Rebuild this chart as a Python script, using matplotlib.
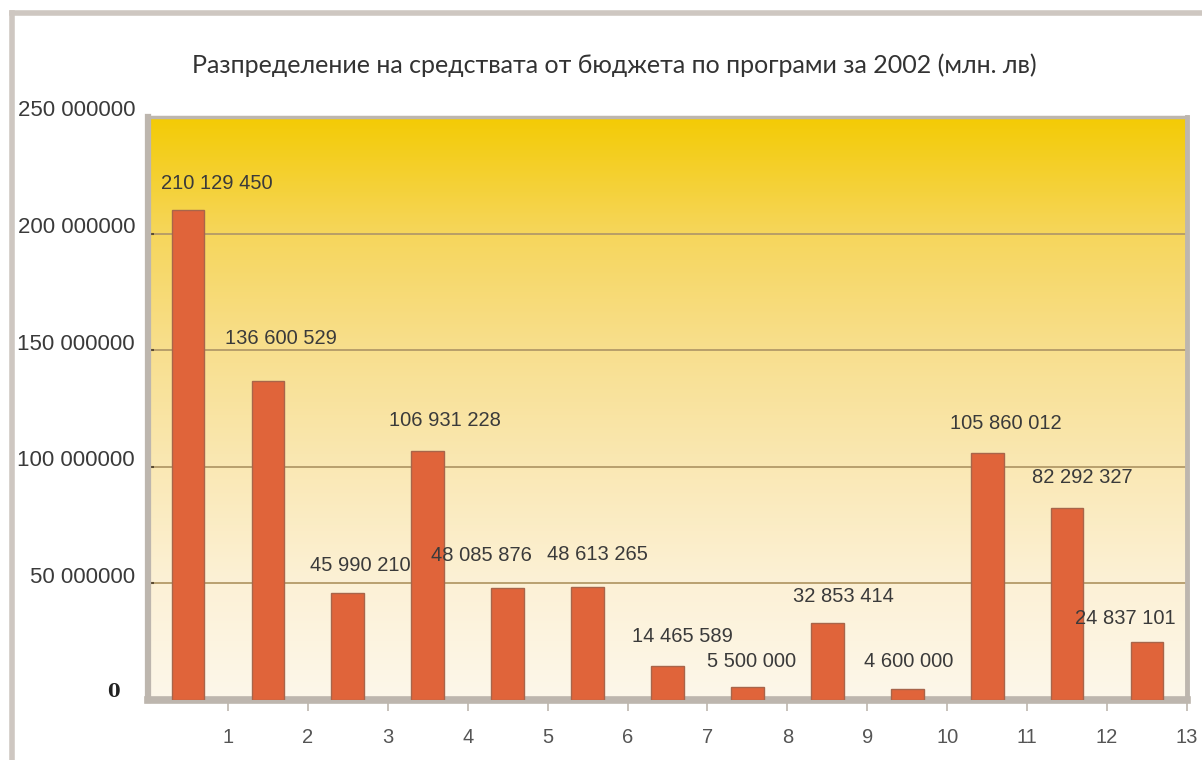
import numpy as np
import matplotlib.pyplot as plt
from matplotlib.colors import LinearSegmentedColormap
from matplotlib.lines import Line2D

# --- data ---
programs = list(range(1, 14))
amounts = [210129450, 136600529, 45990210, 106931228, 48085876, 48613265,
           14465589, 5500000, 32853414, 4600000, 105860012, 82292327, 24837101]
value_labels = ["210 129 450", "136 600 529", "45 990 210", "106 931 228",
                "48 085 876", "48 613 265", "14 465 589", "5 500 000",
                "32 853 414", "4 600 000", "105 860 012", "82 292 327",
                "24 837 101"]
y_ticks = [50000000, 100000000, 150000000, 200000000, 250000000]
y_tick_labels = ["50 000000", "100 000000", "150 000000", "200 000000", "250 000000"]
title = "Разпределение на средствата от бюджета по програми за 2002 (млн. лв)"

# label nudges (pixels) relative to bar centre / bar top
label_dx = [29, 13, 13, 17, -26, 10, 15, 4, 16, 1, 19, 15, -22]
label_dy = [26, 43, 27, 30, 32, 32, 30, 26, 27, 28, 30, 31, 24]

W, H = 1202, 760
fig = plt.figure(figsize=(W / 100, H / 100), dpi=100)
fig.patch.set_facecolor("white")

# outer frame of the picture (top and left edges only are visible)
border = "#CEC7C1"
fig.add_artist(Line2D([12 / W, 1.0], [1 - 13 / H, 1 - 13 / H], color=border, lw=4,
                      transform=fig.transFigure))
fig.add_artist(Line2D([12 / W, 12 / W], [0.0, 1 - 13 / H], color=border, lw=4,
                      transform=fig.transFigure))

left, right, top, bottom = 148, 1187, 117, 700
ax = fig.add_axes([left / W, (H - bottom) / H, (right - left) / W, (bottom - top) / H])

x = np.arange(len(programs))
ax.set_xlim(-0.5, len(programs) - 0.5)
ax.set_ylim(0, 250000000)

# yellow gradient background
cmap = LinearSegmentedColormap.from_list(
    "bg", ["#FDF7EA", "#FCF1D6", "#FAE8B4", "#F8DF8E", "#F6D65C", "#F3CB05"])
grad = np.linspace(0, 1, 256).reshape(-1, 1)
ax.imshow(grad, cmap=cmap, origin="lower", aspect="auto",
          extent=[-0.5, len(programs) - 0.5, 0, 250000000], zorder=0)

for yv in y_ticks[:-1]:
    ax.axhline(yv, color="#B39A68", lw=1.3, zorder=1)
    ax.plot([-0.5, -0.42], [yv, yv], color="#5A4A30", lw=1.5, zorder=2,
            solid_capstyle="butt")

ax.bar(x, amounts, width=0.41, color="#E0643A", edgecolor="#A8654A",
       linewidth=1.0, zorder=3)

for i, (v, lab) in enumerate(zip(amounts, value_labels)):
    ax.annotate(lab, (x[i], v), xytext=(label_dx[i], label_dy[i]),
                textcoords="offset pixels", ha="center", va="center",
                fontsize=14.5, color="#3A3A3A", family="Liberation Sans", zorder=4)

# frame
for side, lw in [("left", 4.5), ("top", 2.5), ("right", 3.5), ("bottom", 5.5)]:
    ax.spines[side].set_color("#BDB6AE")
    ax.spines[side].set_linewidth(lw)

# y labels
ax.set_yticks([])
for yv, lab in zip(y_ticks, y_tick_labels):
    ax.annotate(lab, (-0.5, yv), xytext=(-13, 6), textcoords="offset pixels",
                ha="right", va="center", fontsize=16, color="#3A3A3A",
                family="Liberation Sans", annotation_clip=False)
ax.annotate("0", (-0.5, 0), xytext=(-28, 8), textcoords="offset pixels",
            ha="right", va="center", fontsize=13, fontweight="bold",
            color="#222222", family="DejaVu Serif", annotation_clip=False)

# x ticks at category boundaries, labels numbered 1..13
ax.set_xticks(x + 0.5)
ax.set_xticklabels([str(p) for p in programs], fontsize=14.5, color="#555555",
                   family="Liberation Sans")
ax.tick_params(axis="x", length=8, width=1.2, color="#BDB6AE", pad=12, direction="out")
ax.tick_params(axis="y", length=0)

fig.text(614 / W, 1 - 65 / H, title, ha="center", va="center", fontsize=18,
         color="#333333", family="Lato")

fig.savefig("out.png", dpi=100)
